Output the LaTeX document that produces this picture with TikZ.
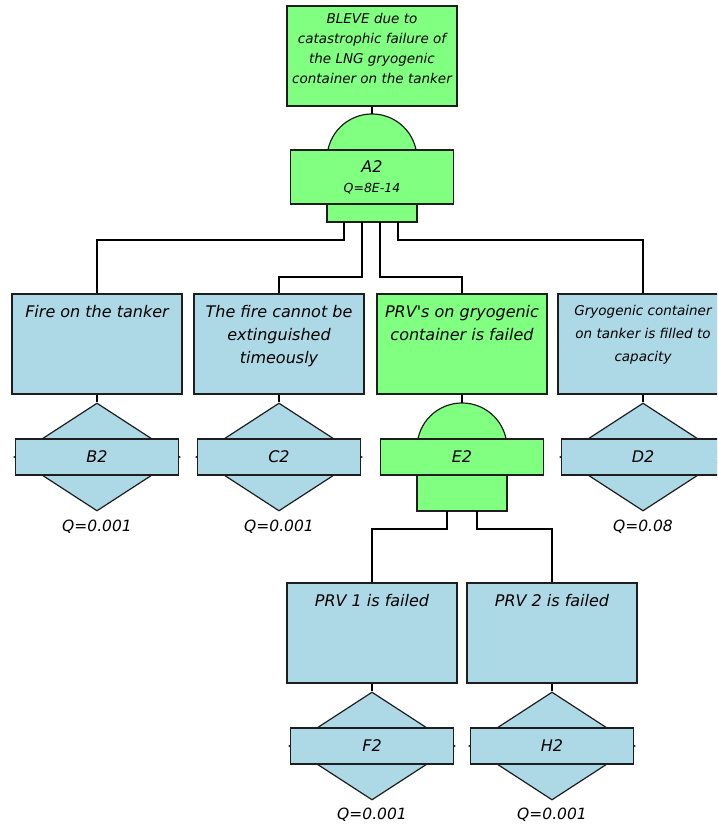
\documentclass[tikz,border=0pt]{standalone}
\usepackage{fontspec}
\setmainfont{DejaVu Sans}
\usepackage{xcolor}
\usepackage{tikz}
\usetikzlibrary{shapes.geometric}
\definecolor{gatgreen}{RGB}{128,255,128}
\definecolor{evblue}{RGB}{173,216,230}
\definecolor{linec}{RGB}{30,30,30}
\tikzset{
  evbox/.style={rectangle, draw=linec, fill=evblue, minimum width=170, minimum height=100, inner sep=0, line width=1.2pt},
  topbox/.style={evbox, fill=gatgreen},
  evtxt/.style={anchor=north, inner sep=0, align=center, font=\fontsize{16}{23}\selectfont\itshape},
  smtxt/.style={evtxt, font=\fontsize{13.5}{23}\selectfont\itshape},
  gatebar/.style={rectangle, draw=linec, fill=gatgreen, minimum width=163, minimum height=36, inner sep=0, line width=1.2pt, font=\fontsize{16}{19}\selectfont\itshape},
  gatefoot/.style={rectangle, draw=linec, fill=gatgreen, minimum width=90, minimum height=36, inner sep=0, line width=1.2pt},
  gatecap/.style={draw=linec, fill=gatgreen, line width=1.2pt},
  basicbar/.style={gatebar, fill=evblue},
  basicdia/.style={diamond, draw=linec, fill=evblue, minimum width=166, minimum height=108, inner sep=0, line width=1.2pt},
  qtxt/.style={inner sep=0, font=\fontsize{15.5}{18}\selectfont\itshape},
  wire/.style={draw=black, line width=1.2pt}
}

\begin{document}
\begin{tikzpicture}[x=1pt, y=-1pt]
  \useasboundingbox (0,0) rectangle (717,829);
  \clip (0,0) rectangle (717,829);
  % top event
  \node[topbox] (top) at (372,56) {};
  \node[evtxt, font=\fontsize{13.5}{20}\selectfont\itshape] (toptxt) at (372,13) {BLEVE due to\\catastrophic failure of\\the LNG gryogenic\\container on the tanker};
  % gate A2
  \coordinate (a2t) at (372,114);
  \draw[gatecap] (327.9,150) arc[start angle=191.5, end angle=348.5, radius=45] -- cycle;
  \node[gatebar, minimum height=54, align=center] (a2) at (372,177) {A2\\[1pt]{\fontsize{12.5}{14}\selectfont Q=8E-14}};
  \node[gatefoot, minimum height=18] (a2f) at (372,213) {};
  \draw[wire] (top.south) -- (a2t);
  \coordinate (a2o1) at (344,222);
  \coordinate (a2o2) at (362,222);
  \coordinate (a2o3) at (380,222);
  \coordinate (a2o4) at (398,222);

  % second level
  \node[evbox] (fire) at (97,344) {};
  \node[evtxt] (firetxt) at (97,305) {Fire on the tanker};
  \node[evbox] (cant) at (279,344) {};
  \node[evtxt] (canttxt) at (279,305) {The fire cannot be\\extinguished\\timeously};
  \node[evbox, fill=gatgreen] (prvs) at (462,344) {};
  \node[evtxt] (prvstxt) at (462,305) {PRV\textquotesingle s on gryogenic\\container is failed};
  \node[evbox] (full) at (643,344) {};
  \node[smtxt] (fulltxt) at (643,305) {Gryogenic container\\on tanker is filled to\\capacity};

  \draw[wire] (a2o1) -- ++(0,18) -| (fire.north);
  \draw[wire] (a2o2) -- ++(0,55) -| (cant.north);
  \draw[wire] (a2o3) -- ++(0,55) -| (prvs.north);
  \draw[wire] (a2o4) -- ++(0,18) -| (full.north);

  % basic events B2, C2, D2
  \node[basicdia] (b2d) at (97,457) {};
  \node[basicbar] (b2) at (97,457) {B2};
  \node[qtxt] (b2q) at (97,527) {Q=0.001};
  \draw[wire] (fire.south) -- (b2d.north);
  \node[basicdia] (c2d) at (279,457) {};
  \node[basicbar] (c2) at (279,457) {C2};
  \node[qtxt] (c2q) at (279,527) {Q=0.001};
  \draw[wire] (cant.south) -- (c2d.north);
  \node[basicdia] (d2d) at (643,457) {};
  \node[basicbar] (d2) at (643,457) {D2};
  \node[qtxt] (d2q) at (643,527) {Q=0.08};
  \draw[wire] (full.south) -- (d2d.north);

  % gate E2
  \coordinate (e2t) at (462,403);
  \draw[gatecap] (417.9,439) arc[start angle=191.5, end angle=348.5, radius=45] -- cycle;
  \node[gatebar] (e2) at (462,457) {E2};
  \node[gatefoot] (e2f) at (462,493) {};
  \draw[wire] (prvs.south) -- (e2t);
  \coordinate (e2o1) at (447,511);
  \coordinate (e2o2) at (477,511);

  % third level
  \node[evbox] (prv1) at (372,633) {};
  \node[evtxt] (prv1txt) at (372,594) {PRV 1 is failed};
  \node[evbox] (prv2) at (552,633) {};
  \node[evtxt] (prv2txt) at (552,594) {PRV 2 is failed};
  \draw[wire] (e2o1) -- ++(0,18) -| (prv1.north);
  \draw[wire] (e2o2) -- ++(0,18) -| (prv2.north);

  \node[basicdia] (f2d) at (372,746) {};
  \node[basicbar] (f2) at (372,746) {F2};
  \node[qtxt] (f2q) at (372,815) {Q=0.001};
  \draw[wire] (prv1.south) -- (f2d.north);
  \node[basicdia] (h2d) at (552,746) {};
  \node[basicbar] (h2) at (552,746) {H2};
  \node[qtxt] (h2q) at (552,815) {Q=0.001};
  \draw[wire] (prv2.south) -- (h2d.north);
\end{tikzpicture}
\end{document}
